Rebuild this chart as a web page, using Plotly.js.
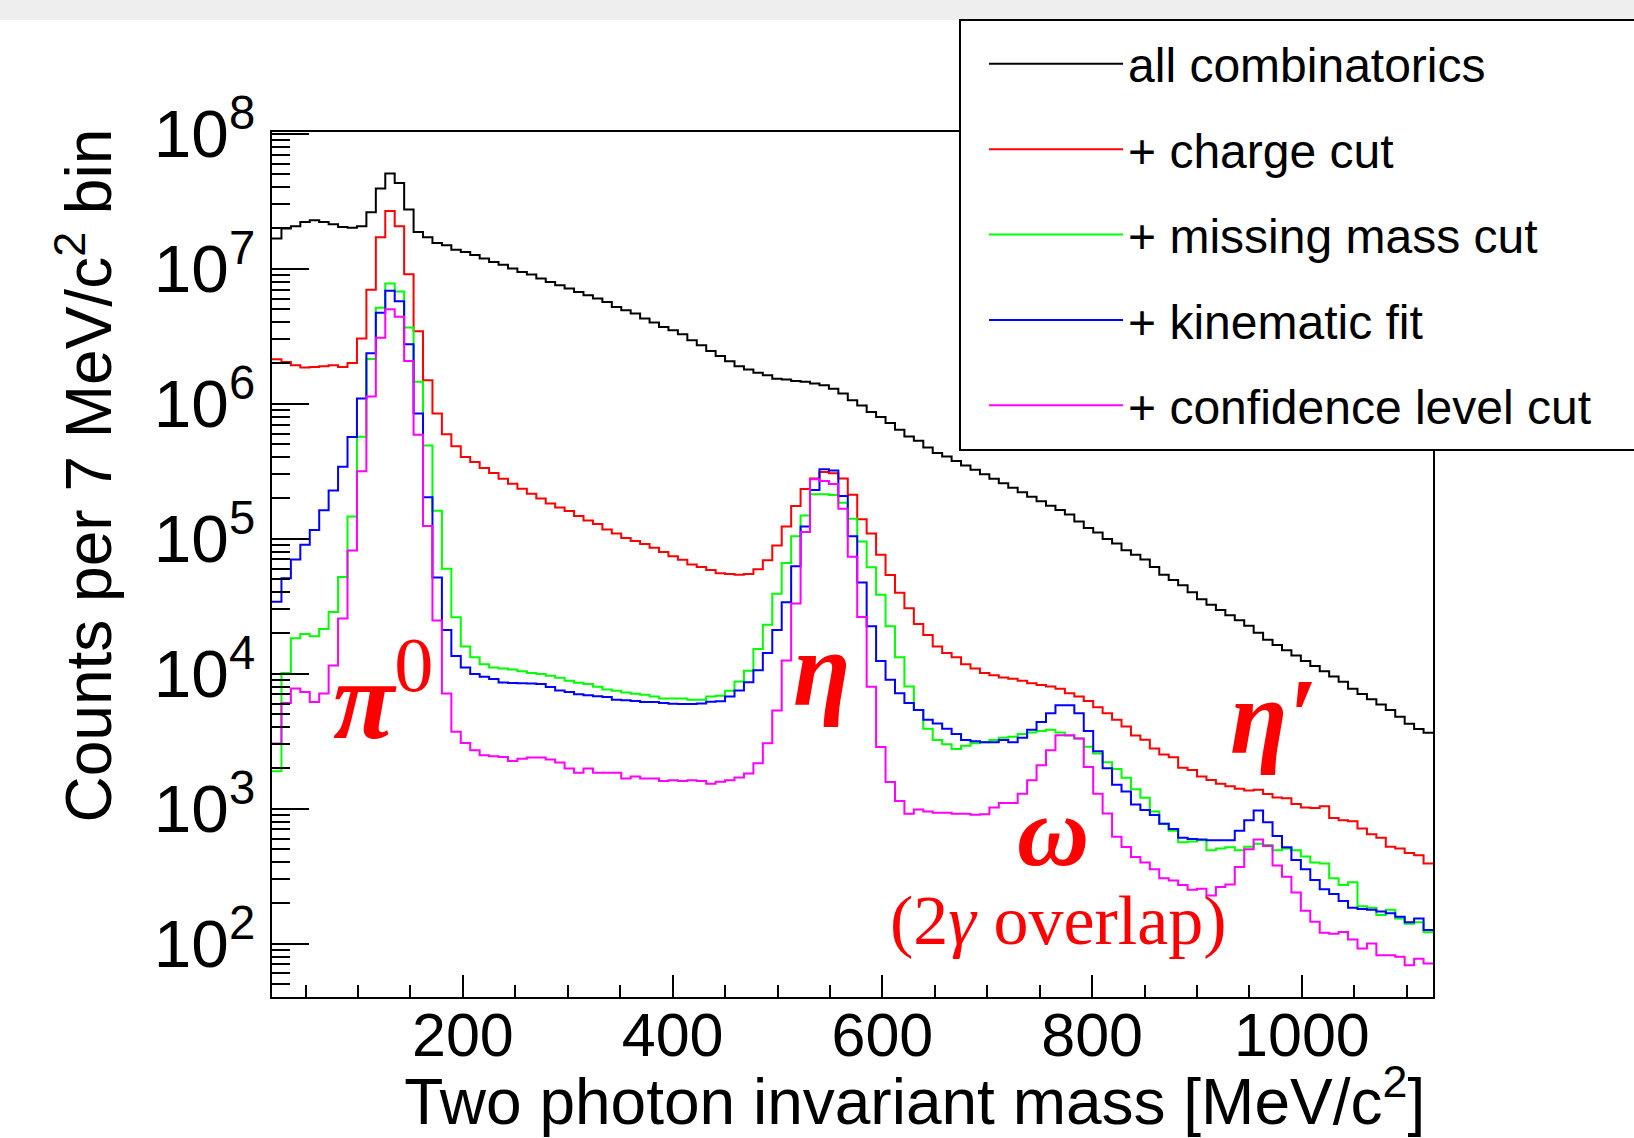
<!DOCTYPE html>
<html>
<head>
<meta charset="utf-8">
<script src="https://cdn.plot.ly/plotly-3.0.1.min.js"></script>
<style>
html, body { margin: 0; padding: 0; background: #ffffff; }
#chart { width: 1634px; height: 1138px; }
</style>
</head>
<body>
<div id="chart"></div>
<script>
// ---- binning (two-photon invariant mass, MeV/c^2) ----
const massBinLow = 18;
const massBinWidth = 9;

// ---- counts per bin ----
const allCombinatorics = [
  1.67e7, 1.98e7, 2.06e7, 2.21e7, 2.28e7, 2.21e7, 2.13e7, 2.03e7, 2.01e7, 2.06e7,
  2.62e7, 3.92e7, 5.06e7, 4.31e7, 2.74e7, 1.87e7, 1.71e7, 1.55e7, 1.49e7, 1.38e7,
  1.33e7, 1.26e7, 1.19e7, 1.12e7, 1.07e7, 1.00e7, 9.44e6, 9.04e6, 8.43e6, 7.96e6,
  7.52e6, 7.11e6, 6.71e6, 6.34e6, 6.00e6, 5.66e6, 5.20e6, 4.91e6, 4.65e6, 4.27e6,
  3.98e6, 3.69e6, 3.49e6, 3.26e6, 2.95e6, 2.70e6, 2.45e6, 2.25e6, 2.06e6, 1.89e6,
  1.79e6, 1.69e6, 1.62e6, 1.53e6, 1.51e6, 1.47e6, 1.45e6, 1.41e6, 1.37e6, 1.29e6,
  1.19e6, 1.06e6, 9.66e5, 8.67e5, 7.94e5, 7.18e5, 6.40e5, 5.70e5, 5.30e5, 4.72e5,
  4.31e5, 4.05e5, 3.76e5, 3.48e5, 3.23e5, 2.99e5, 2.77e5, 2.57e5, 2.38e5, 2.20e5,
  2.04e5, 1.89e5, 1.75e5, 1.63e5, 1.51e5, 1.34e5, 1.20e5, 1.11e5, 9.91e4, 9.18e4,
  8.18e4, 7.59e4, 7.00e4, 6.17e4, 5.40e4, 4.93e4, 4.51e4, 4.00e4, 3.55e4, 3.23e4,
  2.96e4, 2.70e4, 2.48e4, 2.26e4, 2.01e4, 1.78e4, 1.63e4, 1.49e4, 1.36e4, 1.24e4,
  1.14e4, 1.04e4, 9.51e3, 8.69e3, 7.73e3, 7.05e3, 6.46e3, 5.89e3, 5.38e3, 4.78e3,
  4.24e3, 3.88e3, 3.65e3
];
const chargeCut = [
  2.13e6, 2.03e6, 1.92e6, 1.85e6, 1.87e6, 1.89e6, 1.92e6, 1.87e6, 2.00e6, 3.03e6,
  6.98e6, 1.71e7, 2.67e7, 2.06e7, 9.08e6, 3.44e6, 1.49e6, 8.43e5, 5.93e5, 4.83e5,
  4.02e5, 3.69e5, 3.33e5, 3.06e5, 2.78e5, 2.55e5, 2.34e5, 2.15e5, 1.98e5, 1.82e5,
  1.70e5, 1.60e5, 1.47e5, 1.36e5, 1.28e5, 1.17e5, 1.09e5, 1.01e5, 9.59e4, 9.12e4,
  8.57e4, 7.94e4, 7.41e4, 6.97e4, 6.43e4, 6.17e4, 5.85e4, 5.53e4, 5.47e4, 5.40e4,
  5.47e4, 5.93e4, 6.92e4, 8.87e4, 1.23e5, 1.74e5, 2.33e5, 2.79e5, 3.11e5, 3.05e5,
  2.79e5, 2.11e5, 1.39e5, 1.09e5, 7.59e4, 5.38e4, 3.97e4, 3.05e4, 2.33e4, 1.93e4,
  1.59e4, 1.42e4, 1.32e4, 1.17e4, 1.09e4, 1.01e4, 9.70e3, 9.35e3, 9.14e3, 8.85e3,
  8.47e3, 8.22e3, 8.02e3, 7.73e3, 7.16e3, 6.75e3, 6.25e3, 5.62e3, 5.09e3, 4.54e3,
  4.05e3, 3.48e3, 3.24e3, 2.79e3, 2.51e3, 2.40e3, 2.01e3, 1.93e3, 1.73e3, 1.63e3,
  1.53e3, 1.46e3, 1.40e3, 1.36e3, 1.38e3, 1.28e3, 1.21e3, 1.19e3, 1.08e3, 1.02e3,
  1.01e3, 1.04e3, 853, 818, 804, 713, 644, 607, 522, 507,
  469, 450, 392
];
const missingMassCut = [
  1.89e3, 1.01e4, 1.83e4, 1.96e4, 1.89e4, 2.14e4, 2.86e4, 5.20e4, 1.46e5, 5.69e5,
  2.14e6, 5.13e6, 7.76e6, 6.76e6, 3.66e6, 1.45e6, 4.90e5, 1.61e5, 5.98e4, 2.61e4,
  1.59e4, 1.32e4, 1.17e4, 1.11e4, 1.09e4, 1.07e4, 1.04e4, 1.01e4, 9.91e3, 9.64e3,
  9.33e3, 8.85e3, 8.55e3, 8.38e3, 8.00e3, 7.62e3, 7.46e3, 7.23e3, 7.08e3, 6.98e3,
  6.76e3, 6.53e3, 6.53e3, 6.53e3, 6.40e3, 6.40e3, 6.76e3, 6.86e3, 7.46e3, 8.73e3,
  1.05e4, 1.52e4, 2.30e4, 3.90e4, 6.59e4, 1.04e5, 1.48e5, 2.13e5, 2.13e5, 2.10e5,
  1.84e5, 1.40e5, 9.53e4, 6.12e4, 3.83e4, 2.24e4, 1.32e4, 8.02e3, 5.37e3, 3.90e3,
  3.22e3, 2.99e3, 2.76e3, 2.92e3, 3.05e3, 3.10e3, 3.22e3, 3.34e3, 3.40e3, 3.56e3,
  3.66e3, 3.75e3, 3.84e3, 3.66e3, 3.48e3, 3.30e3, 2.87e3, 2.56e3, 2.20e3, 1.96e3,
  1.69e3, 1.39e3, 1.20e3, 951, 771, 684, 562, 571, 582, 492,
  507, 516, 492, 522, 548, 538, 492, 507, 492, 442,
  399, 392, 305, 271, 284, 189, 184, 163, 178, 153,
  140, 144, 121
];
const kinematicFit = [
  3.40e4, 5.08e4, 7.01e4, 8.99e4, 1.16e5, 1.62e5, 2.27e5, 3.40e5, 5.66e5, 1.09e6,
  2.36e6, 4.70e6, 6.85e6, 5.73e6, 2.75e6, 8.43e5, 2.02e5, 5.14e4, 2.10e4, 1.35e4,
  1.11e4, 9.91e3, 9.46e3, 9.10e3, 8.59e3, 8.51e3, 8.47e3, 8.43e3, 8.36e3, 7.94e3,
  7.50e3, 7.29e3, 7.03e3, 6.90e3, 6.79e3, 6.71e3, 6.41e3, 6.34e3, 6.27e3, 6.17e3,
  6.17e3, 6.05e3, 5.98e3, 5.96e3, 5.96e3, 6.00e3, 6.19e3, 6.24e3, 6.75e3, 7.50e3,
  8.61e3, 1.06e4, 1.42e4, 2.10e4, 3.37e4, 6.25e4, 1.23e5, 2.29e5, 3.26e5, 3.19e5,
  2.07e5, 1.04e5, 4.73e4, 2.24e4, 1.24e4, 8.99e3, 7.16e3, 6.05e3, 5.37e3, 4.54e3,
  4.27e3, 3.90e3, 3.56e3, 3.22e3, 3.15e3, 3.10e3, 3.10e3, 3.22e3, 3.10e3, 3.34e3,
  3.84e3, 4.37e3, 5.09e3, 5.83e3, 5.83e3, 5.09e3, 3.75e3, 2.66e3, 1.99e3, 1.50e3,
  1.34e3, 1.07e3, 977, 895, 771, 705, 607, 596, 589, 582,
  582, 582, 684, 818, 966, 791, 625, 516, 416, 355,
  296, 252, 233, 207, 184, 180, 178, 173, 168, 158,
  144, 153, 126
];
const confidenceLevelCut = [
  3.03e3, 6.05e3, 7.74e3, 7.31e3, 6.17e3, 7.11e3, 1.15e4, 2.56e4, 8.15e4, 3.15e5,
  1.13e6, 3.07e6, 5.01e6, 4.39e6, 2.07e6, 5.89e5, 1.24e5, 2.47e4, 7.11e3, 3.70e3,
  3.06e3, 2.70e3, 2.48e3, 2.44e3, 2.41e3, 2.25e3, 2.34e3, 2.39e3, 2.39e3, 2.31e3,
  2.19e3, 1.98e3, 1.84e3, 1.98e3, 1.84e3, 1.84e3, 1.84e3, 1.67e3, 1.73e3, 1.67e3,
  1.67e3, 1.60e3, 1.62e3, 1.60e3, 1.62e3, 1.60e3, 1.53e3, 1.58e3, 1.62e3, 1.70e3,
  1.82e3, 2.17e3, 3.05e3, 5.33e3, 1.25e4, 3.30e4, 1.12e5, 2.75e5, 2.67e5, 2.54e5,
  1.66e5, 7.35e4, 2.62e4, 8.00e3, 2.86e3, 1.57e3, 1.14e3, 916, 982, 953,
  931, 931, 916, 916, 899, 908, 1.02e3, 1.10e3, 1.10e3, 1.29e3,
  1.62e3, 2.09e3, 2.70e3, 3.49e3, 3.49e3, 3.30e3, 2.03e3, 1.29e3, 918, 617,
  520, 437, 399, 355, 304, 293, 271, 250, 255, 227,
  262, 274, 369, 499, 589, 528, 378, 313, 239, 175,
  145, 120, 118, 122, 107, 92, 100, 82, 82, 80,
  69, 77, 71
];

const seriesNames = ['all combinatorics', '+ charge cut', '+ missing mass cut', '+ kinematic fit', '+ confidence level cut'];
const seriesColors = ['#000000', '#ff0000', '#00ff00', '#0000ff', '#ff00ff'];
const seriesValues = [allCombinatorics, chargeCut, missingMassCut, kinematicFit, confidenceLevelCut];

const xTitle = 'Two photon invariant mass [MeV/c<sup>2</sup>]';
const yTitle = 'Counts per 7 MeV/c<sup>2</sup> bin';

// ---- build step-histogram traces ----
const nBins = allCombinatorics.length;
const binEdges = [];
for (let i = 0; i <= nBins; i++) binEdges.push(massBinLow + massBinWidth * i);

const traces = seriesValues.map((vals, k) => ({
  type: 'scatter',
  mode: 'lines',
  name: seriesNames[k],
  x: binEdges,
  y: vals.concat([vals[vals.length - 1]]),
  line: { shape: 'hv', color: seriesColors[k], width: 2 },
  legendgroup: 'g' + k,
  hoverinfo: 'skip'
}));

// ROOT-style titles sit at the far end of their axis: pad with non-breaking spaces
const pad = n => '<span>' + '\u00A0'.repeat(n) + '</span>';

const layout = {
  width: 1634,
  height: 1138,
  margin: { l: 272, r: 201, t: 132, b: 141, pad: 0, autoexpand: false },
  paper_bgcolor: '#ffffff',
  plot_bgcolor: '#ffffff',
  font: { family: 'Liberation Sans, Arial, Helvetica, sans-serif', color: '#000000' },
  showlegend: true,
  xaxis: {
    range: [massBinLow, massBinLow + massBinWidth * nBins],
    tick0: 0,
    dtick: 200,
    ticks: 'inside',
    ticklen: 22,
    tickwidth: 2,
    tickcolor: '#000000',
    showline: true,
    linewidth: 2,
    linecolor: '#000000',
    mirror: true,
    showgrid: false,
    zeroline: false,
    tickfont: { size: 61 },
    ticklabelstandoff: -16,
    minor: { tick0: 0, dtick: 50, ticks: 'inside', ticklen: 12, tickwidth: 1.5, tickcolor: '#000000', showgrid: false },
    title: { text: pad(7) + xTitle, font: { size: 64 }, standoff: 26 }
  },
  yaxis: {
    type: 'log',
    range: [1.604, 8.012],
    dtick: 1,
    exponentformat: 'power',
    ticks: 'inside',
    ticklen: 37,
    tickwidth: 2,
    tickcolor: '#000000',
    showline: true,
    linewidth: 2,
    linecolor: '#000000',
    mirror: true,
    showgrid: false,
    zeroline: false,
    tickfont: { size: 54 },
    ticklabelstandoff: 4,
    minor: { dtick: 'D1', ticks: 'inside', ticklen: 18, tickwidth: 1.5, tickcolor: '#000000', showgrid: false },
    title: { text: pad(10) + yTitle, font: { size: 64 }, standoff: 21 }
  },
  legend: {
    x: 0.6133,
    y: 1.1225,
    xanchor: 'left',
    yanchor: 'top',
    bgcolor: 'rgba(0,0,0,0)',
    borderwidth: 0,
    font: { size: 48, color: '#000000' },
    itemwidth: 134,
    tracegroupgap: 20,
    traceorder: 'grouped'
  },
  shapes: [
    // light grey strip along the top edge of the picture
    { type: 'rect', xref: 'paper', yref: 'paper', x0: -0.2343, x1: 1.1731, y0: 1.1295, y1: 1.1526,
      fillcolor: '#eeeeee', line: { width: 0 }, layer: 'below' },
    // legend frame (runs off the right edge of the picture, as in the reference)
    { type: 'rect', xref: 'paper', yref: 'paper', x0: 0.5926, x1: 1.25, y0: 0.6324, y1: 1.1295,
      fillcolor: '#ffffff', line: { color: '#000000', width: 2 }, layer: 'above' }
  ],
  annotations: [
    { x: 124, y: 3.87, xref: 'x', yref: 'y', showarrow: false, xanchor: 'center', yanchor: 'middle',
      text: '<b><i>π</i></b><sup>0</sup>', font: { family: 'Liberation Serif, Times New Roman, serif', size: 112, color: '#ff0000' } },
    { x: 542, y: 4.04, xref: 'x', yref: 'y', showarrow: false, xanchor: 'center', yanchor: 'middle',
      text: '<b><i>η</i></b>', font: { family: 'Liberation Serif, Times New Roman, serif', size: 105, color: '#ff0000' } },
    { x: 762.5, y: 2.83, xref: 'x', yref: 'y', showarrow: false, xanchor: 'center', yanchor: 'middle',
      text: '<b><i>ω</i></b>', font: { family: 'Liberation Serif, Times New Roman, serif', size: 100, color: '#ff0000' } },
    { x: 768, y: 2.17, xref: 'x', yref: 'y', showarrow: false, xanchor: 'center', yanchor: 'middle',
      text: '(2<i>γ</i> overlap)', font: { family: 'Liberation Serif, Times New Roman, serif', size: 70, color: '#ff0000' } },
    { x: 973, y: 3.68, xref: 'x', yref: 'y', showarrow: false, xanchor: 'center', yanchor: 'middle',
      text: '<b><i>η′</i></b>', font: { family: 'Liberation Serif, Times New Roman, serif', size: 105, color: '#ff0000' } }
  ]
};

Plotly.newPlot('chart', traces, layout, { displayModeBar: false, responsive: false });
</script>
</body>
</html>
